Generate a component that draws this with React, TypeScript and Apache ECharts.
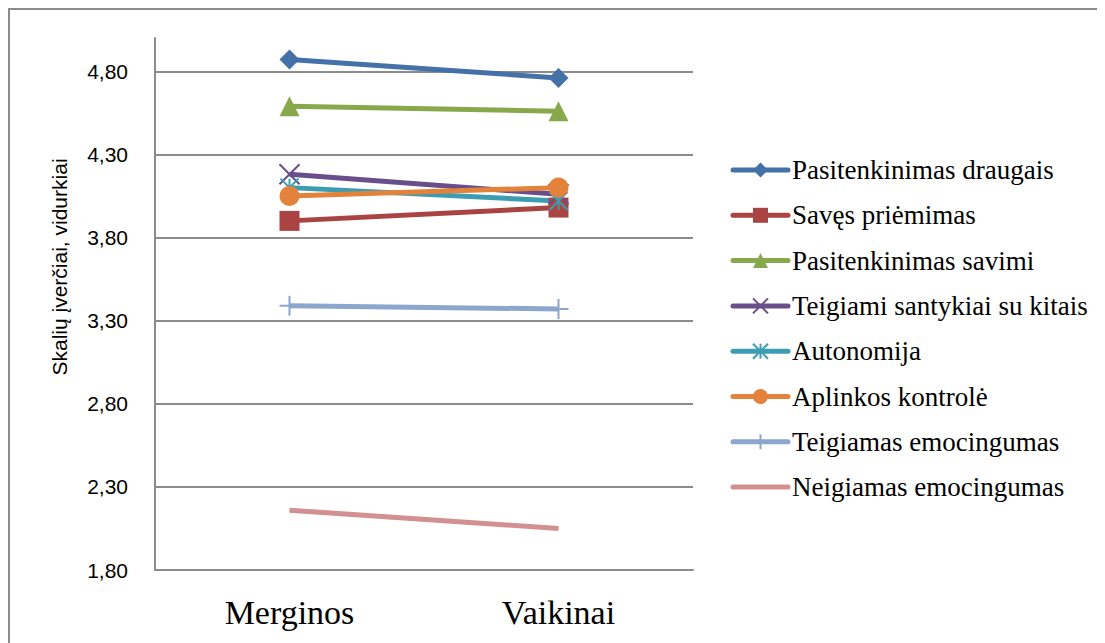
import React, { useEffect, useRef } from "react";
import * as echarts from "echarts";

const categories = ["Merginos", "Vaikinai"];
const seriesNames = [
  "Pasitenkinimas draugais",
  "Savęs priėmimas",
  "Pasitenkinimas savimi",
  "Teigiami santykiai su kitais",
  "Autonomija",
  "Aplinkos kontrolė",
  "Teigiamas emocingumas",
  "Neigiamas emocingumas",
];
const draugais = [4.87, 4.76];
const savesPriemimas = [3.9, 3.98];
const savimi = [4.59, 4.56];
const santykiai = [4.18, 4.06];
const autonomija = [4.1, 4.02];
const aplinkos = [4.05, 4.1];
const teigEmoc = [3.39, 3.37];
const neigEmoc = [2.16, 2.05];
const yTicks = { min: 1.8, max: 5.0, interval: 0.5 };
const yAxisTitle = "Skalių įverčiai, vidurkiai";

const colors = ["#4471A8", "#A94442", "#88A94B", "#6A4E8C", "#3C9DB2", "#E3823A", "#8CA6CE", "#D39090"];
const markerKinds = ["diamond", "square", "triangle", "x", "star", "circle", "plus", "none"];
const symbols = [
  "diamond",
  "rect",
  "triangle",
  "path://M0,0L10,10M10,0L0,10",
  "path://M0,0L10,10M10,0L0,10M5,0L5,10",
  "circle",
  "path://M5,0L5,10M0,5L10,5",
  "none",
];
const strokeSym = [false, false, false, true, true, false, true, false];
const sizes = [20, 20, 20, 20, 18, 20, 20, 0];
const allData = [draugais, savesPriemimas, savimi, santykiai, autonomija, aplinkos, teigEmoc, neigEmoc];

const SERIF = "Liberation Serif";

function legendMarker(kind: string, cx: number, cy: number, color: string): any[] {
  const s = 7.5;
  const st = { stroke: color, lineWidth: 2 };
  switch (kind) {
    case "diamond":
      return [{ type: "polygon", shape: { points: [[cx, cy - s], [cx + s, cy], [cx, cy + s], [cx - s, cy]] }, style: { fill: color } }];
    case "square":
      return [{ type: "rect", shape: { x: cx - s, y: cy - s, width: 2 * s, height: 2 * s }, style: { fill: color } }];
    case "triangle":
      return [{ type: "polygon", shape: { points: [[cx, cy - s], [cx + s, cy + s], [cx - s, cy + s]] }, style: { fill: color } }];
    case "x":
      return [
        { type: "line", shape: { x1: cx - s, y1: cy - s, x2: cx + s, y2: cy + s }, style: st },
        { type: "line", shape: { x1: cx + s, y1: cy - s, x2: cx - s, y2: cy + s }, style: st },
      ];
    case "star":
      return [
        { type: "line", shape: { x1: cx - s, y1: cy - s, x2: cx + s, y2: cy + s }, style: st },
        { type: "line", shape: { x1: cx + s, y1: cy - s, x2: cx - s, y2: cy + s }, style: st },
        { type: "line", shape: { x1: cx, y1: cy - s, x2: cx, y2: cy + s }, style: st },
      ];
    case "circle":
      return [{ type: "circle", shape: { cx, cy, r: s }, style: { fill: color } }];
    case "plus":
      return [
        { type: "line", shape: { x1: cx, y1: cy - s, x2: cx, y2: cy + s }, style: st },
        { type: "line", shape: { x1: cx - s, y1: cy, x2: cx + s, y2: cy }, style: st },
      ];
    default:
      return [];
  }
}

function buildLegend(): any[] {
  const out: any[] = [];
  const x0 = 725;
  const x1 = 780;
  const y0 = 162;
  const pitch = 45.3;
  seriesNames.forEach((name, i) => {
    const cy = y0 + i * pitch;
    out.push({
      type: "line",
      shape: { x1: x0, y1: cy, x2: x1, y2: cy },
      style: { stroke: colors[i], lineWidth: 5, lineCap: "round" },
    });
    legendMarker(markerKinds[i], (x0 + x1) / 2, cy, colors[i]).forEach((m) => out.push(m));
    out.push({
      type: "text",
      x: x1 + 4,
      y: cy,
      style: {
        text: name,
        fontFamily: SERIF,
        fontSize: 27,
        fill: "#000",
        align: "left",
        verticalAlign: "middle",
      },
    });
  });
  return out;
}

export default function App() {
  const ref = useRef<HTMLDivElement>(null);
  useEffect(() => {
    if (!ref.current) return;
    const chart = echarts.init(ref.current, undefined, { renderer: "svg" });
    chart.setOption({
      animation: false,
      backgroundColor: "#ffffff",
      textStyle: { fontFamily: SERIF },
      grid: { left: 147, right: 412, top: 30, bottom: 73, containLabel: false },
      xAxis: {
        type: "category",
        data: categories,
        boundaryGap: true,
        axisLine: { lineStyle: { color: "#8c8c8c", width: 2 } },
        axisTick: { show: false },
        axisLabel: {
          fontFamily: SERIF,
          fontSize: 34,
          color: "#000",
          margin: 25,
        },
      },
      yAxis: {
        type: "value",
        min: yTicks.min,
        max: yTicks.max,
        interval: yTicks.interval,
        axisLine: { show: true, lineStyle: { color: "#8c8c8c", width: 2 } },
        axisTick: { show: false },
        splitLine: { show: true, showMaxLine: false, lineStyle: { color: "#8c8c8c", width: 2 } },
        axisLabel: {
          fontFamily: "Liberation Sans",
          fontSize: 21,
          color: "#000",
          margin: 27,
          showMaxLabel: false,
          formatter: (v: number) => v.toFixed(2).replace(".", ","),
        },
      },
      graphic: [
        {
          type: "rect",
          shape: { x: 1, y: 1, width: 2000, height: 2000 },
          style: { fill: "none", stroke: "#8c8c8c", lineWidth: 2 },
          silent: true,
        },
        {
          type: "text",
          x: 51,
          y: 259,
          rotation: Math.PI / 2,
          style: {
            text: yAxisTitle,
            fontFamily: "Liberation Sans",
            fontSize: 21,
            fill: "#000",
            align: "center",
            verticalAlign: "middle",
          },
        },
        ...buildLegend(),
      ],
      series: seriesNames.map((name, i) => ({
        name,
        type: "line",
        data: allData[i],
        symbol: symbols[i],
        symbolSize: sizes[i],
        showSymbol: symbols[i] !== "none",
        lineStyle: { color: colors[i], width: 5 },
        itemStyle: strokeSym[i]
          ? { color: colors[i], borderColor: colors[i], borderWidth: 2 }
          : { color: colors[i] },
        emphasis: { disabled: true },
      })),
    });
    return () => chart.dispose();
  }, []);
  return <div ref={ref} style={{ width: 1097, height: 635 }} />;
}
